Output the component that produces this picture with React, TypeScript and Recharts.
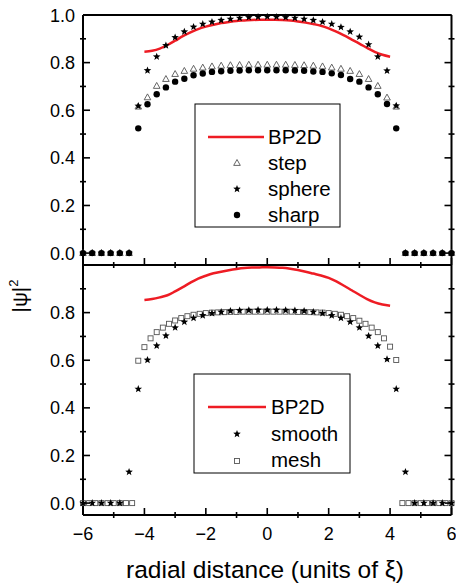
import React from 'react';
import { ComposedChart, Line, Scatter, XAxis, YAxis } from 'recharts';

// x positions of the simulated points
const gridA = [-6.0, -5.7, -5.4, -5.1, -4.8, -4.5, -4.2, -3.9, -3.6, -3.3, -3.0, -2.7, -2.4, -2.1, -1.8, -1.5, -1.2, -0.9, -0.6, -0.3, 0, 0.3, 0.6, 0.9, 1.2, 1.5, 1.8, 2.1, 2.4, 2.7, 3.0, 3.3, 3.6, 3.9, 4.2, 4.5, 4.8, 5.1, 5.4, 5.7, 6.0];
const gridB = [-6.0, -5.8, -5.6, -5.4, -5.2, -5.0, -4.8, -4.6, -4.4, -4.2, -4.0, -3.8, -3.6, -3.4, -3.2, -3.0, -2.8, -2.6, -2.4, -2.2, -2.0, -1.8, -1.6, -1.4, -1.2, -1.0, -0.8, -0.6, -0.4, -0.2, 0, 0.2, 0.4, 0.6, 0.8, 1.0, 1.2, 1.4, 1.6, 1.8, 2.0, 2.2, 2.4, 2.6, 2.8, 3.0, 3.2, 3.4, 3.6, 3.8, 4.0, 4.2, 4.4, 4.6, 4.8, 5.0, 5.2, 5.4, 5.6, 5.8, 6.0];
const gridLine = [-4.0, -3.75, -3.5, -3.25, -3.0, -2.75, -2.5, -2.25, -2.0, -1.75, -1.5, -1.25, -1.0, -0.75, -0.5, -0.25, 0, 0.25, 0.5, 0.75, 1.0, 1.25, 1.5, 1.75, 2.0, 2.25, 2.5, 2.75, 3.0, 3.25, 3.5, 3.75, 4.0];

// upper panel
const bpTop = [0.846, 0.850, 0.859, 0.874, 0.892, 0.911, 0.927, 0.941, 0.951, 0.959, 0.966, 0.971, 0.975, 0.977, 0.979, 0.980, 0.980, 0.980, 0.979, 0.977, 0.973, 0.968, 0.962, 0.955, 0.944, 0.930, 0.914, 0.897, 0.880, 0.862, 0.845, 0.833, 0.825];
const stepTop = [0, 0, 0, 0, 0, 0, 0.615, 0.654, 0.702, 0.731, 0.752, 0.765, 0.774, 0.779, 0.784, 0.787, 0.789, 0.790, 0.791, 0.791, 0.791, 0.791, 0.791, 0.790, 0.789, 0.787, 0.784, 0.779, 0.774, 0.765, 0.752, 0.731, 0.702, 0.653, 0.615, 0, 0, 0, 0, 0, 0];
const sphereTop = [0, 0, 0, 0, 0, 0, 0.618, 0.767, 0.825, 0.872, 0.906, 0.930, 0.950, 0.962, 0.971, 0.978, 0.983, 0.987, 0.990, 0.992, 0.993, 0.992, 0.990, 0.987, 0.983, 0.978, 0.971, 0.962, 0.949, 0.930, 0.908, 0.876, 0.825, 0.766, 0.619, 0, 0, 0, 0, 0, 0];
const sharpTop = [0, 0, 0, 0, 0, 0, 0.524, 0.625, 0.667, 0.696, 0.720, 0.732, 0.747, 0.754, 0.761, 0.764, 0.766, 0.767, 0.768, 0.768, 0.768, 0.768, 0.768, 0.767, 0.766, 0.763, 0.761, 0.755, 0.748, 0.731, 0.720, 0.696, 0.667, 0.626, 0.524, 0, 0, 0, 0, 0, 0];

// lower panel
const bpBottom = [0.853, 0.857, 0.864, 0.873, 0.889, 0.907, 0.926, 0.943, 0.955, 0.965, 0.972, 0.978, 0.983, 0.987, 0.989, 0.990, 0.991, 0.990, 0.988, 0.984, 0.979, 0.972, 0.964, 0.956, 0.946, 0.931, 0.913, 0.894, 0.875, 0.857, 0.843, 0.834, 0.829];
const smoothBottom = [0, 0, 0, 0, 0, 0.131, 0.479, 0.601, 0.661, 0.703, 0.737, 0.761, 0.777, 0.788, 0.797, 0.803, 0.807, 0.809, 0.810, 0.811, 0.811, 0.811, 0.810, 0.809, 0.807, 0.803, 0.797, 0.788, 0.777, 0.761, 0.737, 0.702, 0.661, 0.604, 0.479, 0.131, 0, 0, 0, 0, 0];
const meshBottom = [0, 0, 0, 0, 0, 0, 0, 0, 0, 0.598, 0.655, 0.692, 0.718, 0.737, 0.753, 0.767, 0.777, 0.785, 0.791, 0.795, 0.798, 0.800, 0.801, 0.802, 0.803, 0.803, 0.804, 0.804, 0.804, 0.804, 0.804, 0.804, 0.804, 0.804, 0.804, 0.803, 0.803, 0.802, 0.801, 0.800, 0.798, 0.795, 0.791, 0.785, 0.777, 0.766, 0.753, 0.737, 0.718, 0.692, 0.657, 0.601, 0, 0, 0, 0, 0, 0, 0, 0, 0];

const xTicks = [-6, -5, -4, -3, -2, -1, 0, 1, 2, 3, 4, 5, 6];
const yTicksTop = [0, 0.1, 0.2, 0.3, 0.4, 0.5, 0.6, 0.7, 0.8, 0.9, 1.0];
const yTicksBottom = [0, 0.1, 0.2, 0.3, 0.4, 0.5, 0.6, 0.7, 0.8, 0.9];

const RED = '#ee1c24';
const FONT = '"Liberation Sans", Arial, sans-serif';
const LEG = 20.5;

const pts = (xs: number[], ys: number[]) => xs.map((x, i) => ({ x, y: ys[i] }));

function starPoints(cx: number, cy: number, R: number, r: number) {
  const p: string[] = [];
  for (let i = 0; i < 10; i++) {
    const a = -Math.PI / 2 + (i * Math.PI) / 5;
    const rad = i % 2 === 0 ? R : r;
    p.push(`${cx + rad * Math.cos(a)},${cy + rad * Math.sin(a)}`);
  }
  return p.join(' ');
}

const Star = ({ cx, cy }: any) => <polygon points={starPoints(cx, cy, 4, 1.7)} fill="#000" />;
const Dot = ({ cx, cy }: any) => <circle cx={cx} cy={cy} r={3.2} fill="#000" />;
const Tri = ({ cx, cy }: any) => (
  <polygon points={`${cx},${cy - 3.5} ${cx + 3.3},${cy + 2.4} ${cx - 3.3},${cy + 2.4}`} fill="none" stroke="#555" strokeWidth={0.9} />
);
const Sq = ({ cx, cy }: any) => (
  <rect x={cx - 2.5} y={cy - 2.5} width={5} height={5} fill="none" stroke="#555" strokeWidth={0.9} />
);

const isMajorX = (v: number) => Math.round(v) % 2 === 0;
const isMajorY = (v: number) => Math.round(v * 10) % 2 === 0;
const fmtX = (v: number) => (v < 0 ? '\u2212' + Math.abs(v) : String(v));

const XTick = ({ x, y, payload, inward, labels }: any) => {
  const v = payload.value;
  const major = isMajorX(v);
  return (
    <g>
      {major ? (
        <line x1={x} x2={x} y1={y} y2={y + inward * 7} stroke="#000" strokeWidth={1.6} />
      ) : (
        <line x1={x} x2={x} y1={y - 3} y2={y + 3} stroke="#000" strokeWidth={1.6} />
      )}
      {labels && major && (
        <text x={x} y={y + 25} textAnchor="middle" fontSize={18} fill="#000" fontFamily={FONT}>
          {fmtX(v)}
        </text>
      )}
    </g>
  );
};

const YTick = ({ x, y, payload, inward, labels }: any) => {
  const v = payload.value;
  const major = isMajorY(v);
  return (
    <g>
      {major ? (
        <line x1={x} x2={x + inward * 7} y1={y} y2={y} stroke="#000" strokeWidth={1.6} />
      ) : (
        <line x1={x - 3} x2={x + 3} y1={y} y2={y} stroke="#000" strokeWidth={1.6} />
      )}
      {labels && major && (
        <text x={x - 8} y={y + 6.5} textAnchor="end" fontSize={18} fill="#000" fontFamily={FONT}>
          {v.toFixed(1)}
        </text>
      )}
    </g>
  );
};

const axisLine = { stroke: '#000', strokeWidth: 2 };

// the four sides of a panel: bottom/left carry the scales, top/right only mirror the ticks
function Frame({ yTicks, xLabels }: { yTicks: number[]; xLabels: boolean }) {
  return [
    <XAxis
      key="xb"
      xAxisId={0}
      type="number"
      dataKey="x"
      domain={[-6, 6]}
      ticks={xTicks}
      interval={0}
      height={1}
      tickSize={0}
      tickMargin={0}
      tickLine={false}
      axisLine={axisLine}
      tick={(p: any) => <XTick {...p} inward={-1} labels={xLabels} />}
    />,
    <XAxis
      key="xt"
      xAxisId="top"
      orientation="top"
      type="number"
      domain={[-6, 6]}
      allowDataOverflow
      ticks={xTicks}
      interval={0}
      height={1}
      tickSize={0}
      tickMargin={0}
      tickLine={false}
      axisLine={axisLine}
      tick={(p: any) => <XTick {...p} inward={1} labels={false} />}
    />,
    <YAxis
      key="yl"
      yAxisId={0}
      type="number"
      dataKey="y"
      domain={[-0.05, 1.0]}
      ticks={yTicks}
      interval={0}
      width={83}
      tickSize={0}
      tickMargin={0}
      tickLine={false}
      axisLine={axisLine}
      tick={(p: any) => <YTick {...p} inward={1} labels />}
    />,
    <YAxis
      key="yr"
      yAxisId="right"
      orientation="right"
      type="number"
      domain={[-0.05, 1.0]}
      allowDataOverflow
      ticks={yTicks}
      interval={0}
      width={1}
      tickSize={0}
      tickMargin={0}
      tickLine={false}
      axisLine={axisLine}
      tick={(p: any) => <YTick {...p} inward={-1} labels={false} />}
    />,
  ];
}

export default function App() {
  return (
    <div style={{ position: 'absolute', left: 0, top: 0, width: 456, height: 586, background: '#fff', fontFamily: FONT }}>
      <div style={{ position: 'absolute', left: 0, top: 0 }}>
        <ComposedChart width={456} height={270} margin={{ top: 14, right: 3.5, bottom: 4, left: 0 }}>
          {Frame({ yTicks: yTicksTop, xLabels: false })}
          <Line data={pts(gridLine, bpTop)} dataKey="y" type="monotone" stroke={RED} strokeWidth={2.5} dot={false} isAnimationActive={false} />
          <Scatter data={pts(gridA, stepTop)} dataKey="y" shape={Tri} isAnimationActive={false} />
          <Scatter data={pts(gridA, sphereTop)} dataKey="y" shape={Star} isAnimationActive={false} />
          <Scatter data={pts(gridA, sharpTop)} dataKey="y" shape={Dot} isAnimationActive={false} />
        </ComposedChart>
      </div>
      <div style={{ position: 'absolute', left: 0, top: 260 }}>
        <ComposedChart width={456} height={326} margin={{ top: 4, right: 3.5, bottom: 70, left: 0 }}>
          {Frame({ yTicks: yTicksBottom, xLabels: true })}
          <Line data={pts(gridLine, bpBottom)} dataKey="y" type="monotone" stroke={RED} strokeWidth={2.5} dot={false} isAnimationActive={false} />
          <Scatter data={pts(gridB, meshBottom)} dataKey="y" shape={Sq} isAnimationActive={false} />
          <Scatter data={pts(gridA, smoothBottom)} dataKey="y" shape={Star} isAnimationActive={false} />
        </ComposedChart>
      </div>
      <svg width={456} height={586} style={{ position: 'absolute', left: 0, top: 0, pointerEvents: 'none' }} fontFamily={FONT}>
        {/* upper legend */}
        <rect x={195} y={104} width={145} height={123} fill="#fff" stroke="#000" strokeWidth={1} />
        <line x1={208} x2={264} y1={137} y2={137} stroke={RED} strokeWidth={2.5} />
        <text x={268} y={144} fontSize={LEG}>BP2D</text>
        <Tri cx={237} cy={163} />
        <text x={268} y={170} fontSize={LEG}>step</text>
        <Star cx={237} cy={189} />
        <text x={268} y={196} fontSize={LEG}>sphere</text>
        <Dot cx={237} cy={215} />
        <text x={268} y={222} fontSize={LEG}>sharp</text>
        {/* lower legend */}
        <rect x={194} y={374} width={156} height={99} fill="#fff" stroke="#000" strokeWidth={1} />
        <line x1={208} x2={266} y1={407} y2={407} stroke={RED} strokeWidth={2.5} />
        <text x={271} y={414} fontSize={LEG}>BP2D</text>
        <Star cx={237} cy={434} />
        <text x={271} y={441} fontSize={LEG}>smooth</text>
        <Sq cx={237} cy={461} />
        <text x={271} y={467} fontSize={LEG}>mesh</text>
        {/* axis titles */}
        <text x={27} y={296} transform="rotate(-90 27 296)" textAnchor="middle" fontSize={21}>
          |ψ|<tspan dy={-9} fontSize={13}>2</tspan>
        </text>
        <text x={265} y={578} textAnchor="middle" fontSize={24.5}>radial distance (units of ξ)</text>
      </svg>
    </div>
  );
}
